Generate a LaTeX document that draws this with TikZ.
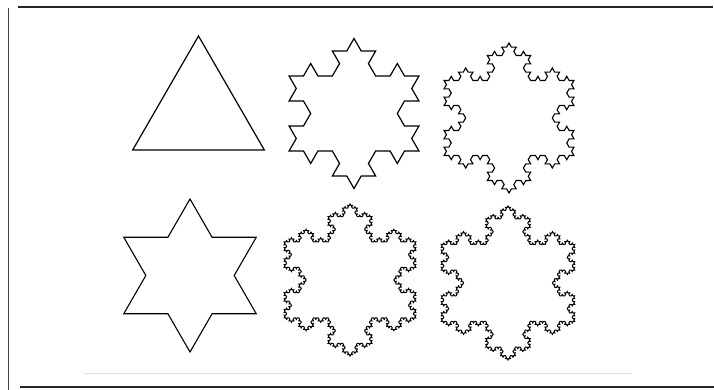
\documentclass[tikz,border=0pt]{standalone}
\usetikzlibrary{lindenmayersystems}
\pgfdeclarelindenmayersystem{Koch curve}{\rule{F -> F-F++F-F}}
\tikzset{
  snow/.style={line width=1.1pt, black},
  frameline/.style={line width=2pt, black!85},
  faintline/.style={line width=1pt, black!12},
}
% #1 centre x (px), #2 centre y (px, from top), #3 circumradius, #4 order, #5 line width
\newcommand\kochflake[5]{%
  \pgfmathsetmacro\kfx{#1-0.8660254*#3}%
  \pgfmathsetmacro\kfy{390-(#2+0.5*#3)}%
  \pgfmathsetmacro\kfs{1.7320508*#3/(3^#4)}%
  \draw[snow, line width=#5, transform canvas={shift={(\kfx pt,\kfy pt)}},
        l-system={Koch curve, axiom=F++F++F, order=#4, step=\kfs pt, angle=60}]
    lindenmayer system -- cycle;
}
\begin{document}
\begin{tikzpicture}[x=1pt,y=1pt]
\useasboundingbox[fill=white] (0,0) rectangle (714,390);
% frame
\coordinate (tl) at (18,383);
\coordinate (tr) at (713,383);
\coordinate (lt) at (8.5,382);
\coordinate (lb) at (8.5,0);
\coordinate (bl) at (20,3);
\coordinate (br) at (714,3);
\coordinate (fl) at (84,16);
\coordinate (fr) at (632,16);
\draw[frameline] (tl) -- (tr);
\draw[line width=1.4pt, black!75] (lt) -- (lb);
\draw[frameline, line width=2.4pt] (bl) -- (br);
\draw[faintline] (fl) -- (fr);
% snowflakes
\kochflake{198.5}{112}{76}{0}{1.2pt}
\kochflake{190}{275.5}{76.5}{1}{1.1pt}
\kochflake{354}{113.5}{75}{2}{1.2pt}
\kochflake{509}{118}{75}{3}{1.1pt}
\kochflake{350}{280}{76}{4}{1pt}
\kochflake{508}{283}{77}{4}{1pt}
\end{tikzpicture}
\end{document}
